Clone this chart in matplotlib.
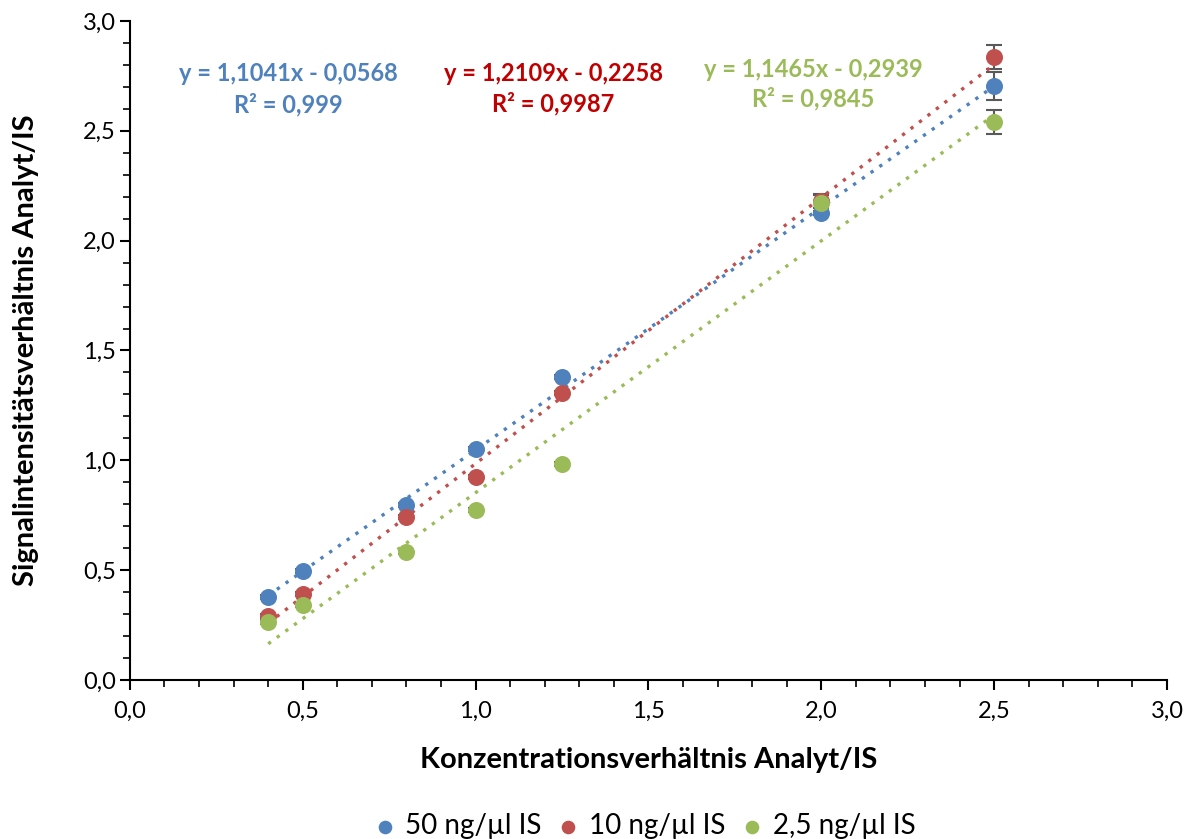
import numpy as np
import matplotlib.pyplot as plt
from matplotlib.ticker import MultipleLocator, FuncFormatter

plt.rcParams['font.family'] = ['Lato', 'DejaVu Sans']

# Konzentrationsverhältnis Analyt/IS
conc = [0.4, 0.5, 0.8, 1.0, 1.25, 2.0, 2.5]

# Signalverhältnisse je IS-Konzentration
ratio_50 = [0.378, 0.496, 0.797, 1.051, 1.379, 2.126, 2.704]
ratio_10 = [0.291, 0.391, 0.742, 0.924, 1.306, 2.180, 2.836]
ratio_2_5 = [0.264, 0.341, 0.583, 0.774, 0.983, 2.172, 2.540]

err_50 = [0.01, 0.01, 0.01, 0.01, 0.01, 0.01, 0.064]
err_10 = [0.01, 0.01, 0.01, 0.01, 0.01, 0.03, 0.053]
err_2_5 = [0.01, 0.01, 0.01, 0.01, 0.01, 0.04, 0.054]

labels = ["50 ng/µl IS", "10 ng/µl IS", "2,5 ng/µl IS"]
slopes = [1.1041, 1.2109, 1.1465]
intercepts = [-0.0568, -0.2258, -0.2939]
r2 = ["0,999", "0,9987", "0,9845"]

colors = ["#4F81BD", "#C0504D", "#9BBB59"]
text_colors = ["#4F81BD", "#C00000", "#9BBB59"]


def comma(v, pos):
	return f"{v:.1f}".replace(".", ",")


fig = plt.figure(figsize=(11.92, 8.39), dpi=100)
ax = fig.add_axes([0.109, 0.1895, 0.870, 0.7855])

series = [ratio_50, ratio_10, ratio_2_5]
errors = [err_50, err_10, err_2_5]
handles = []
for ys, es, col in zip(series, errors, colors):
	ax.errorbar(conc, ys, yerr=es, fmt="none", ecolor="#595959",
				elinewidth=1.5, capsize=6, capthick=1.5, zorder=2)
	h = ax.scatter(conc, ys, s=150, color=col, zorder=3, linewidths=0)
	handles.append(h)

# Trendlinien aus den angegebenen Regressionsgleichungen
xfit = np.linspace(min(conc), max(conc), 50)
for m, b, col in zip(slopes, intercepts, colors):
	ax.plot(xfit, m * xfit + b, linestyle=(0, (1, 2.2)), color=col,
			linewidth=2.4, zorder=2.5)

# Gleichungen und Bestimmtheitsmaße (Datenkoordinaten)
eq_pos = [(0.457, 2.763, 2.617), (1.224, 2.763, 2.626), (1.976, 2.777, 2.645)]
for (tx, ty1, ty2), m, b, r, tc in zip(eq_pos, slopes, intercepts, r2, text_colors):
	txt = f"y = {m:.4f}x - {abs(b):.4f}".replace(".", ",")
	ax.text(tx, ty1, txt, color=tc, fontsize=17, fontweight="bold",
			ha="center", va="center")
	ax.text(tx, ty2, f"R² = {r}", color=tc, fontsize=17,
			fontweight="bold", ha="center", va="center")

ax.set_xlim(0, 3)
ax.set_ylim(0, 3)
ax.xaxis.set_major_locator(MultipleLocator(0.5))
ax.xaxis.set_minor_locator(MultipleLocator(0.1))
ax.yaxis.set_major_locator(MultipleLocator(0.5))
ax.yaxis.set_minor_locator(MultipleLocator(0.1))
ax.xaxis.set_major_formatter(FuncFormatter(comma))
ax.yaxis.set_major_formatter(FuncFormatter(comma))
ax.tick_params(which="major", length=7, width=1.5, labelsize=17)
ax.tick_params(axis="y", which="major", pad=3)
ax.tick_params(axis="x", which="major", pad=8)
ax.tick_params(which="minor", length=5, width=1.2)

for s in ["top", "right"]:
	ax.spines[s].set_visible(False)
for s in ["left", "bottom"]:
	ax.spines[s].set_linewidth(1.5)

ax.set_xlabel("Konzentrationsverhältnis Analyt/IS", fontsize=21,
			  fontweight="bold", labelpad=18)
ax.set_ylabel("Signalintensitätsverhältnis Analyt/IS", fontsize=21,
			  fontweight="bold", labelpad=32)

fig.legend(handles, labels, loc="lower center", ncol=3, frameon=False,
		   fontsize=20, bbox_to_anchor=(0.54, -0.03), handlelength=0.9,
		   handletextpad=0.3, columnspacing=0.5, markerscale=0.8)

fig.savefig("out.png", dpi=100)
